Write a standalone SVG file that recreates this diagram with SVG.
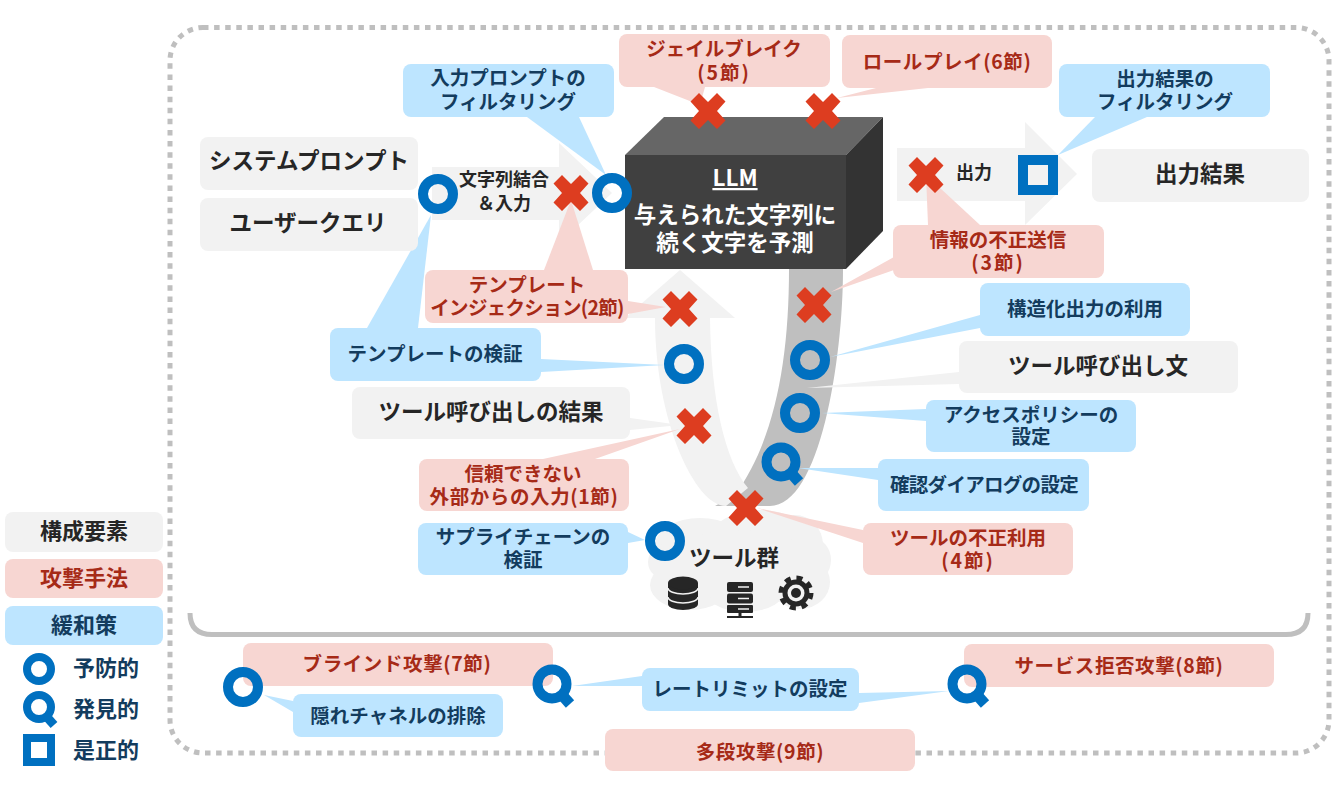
<svg xmlns="http://www.w3.org/2000/svg" width="1341" height="790" viewBox="0 0 1341 790">
<style>
text{font-family:"Noto Sans CJK JP","Noto Sans",sans-serif;font-weight:700;text-anchor:middle;dominant-baseline:central}
.g{fill:#f2f2f2}.p{fill:#f7d6d2}.b{fill:#bde5ff}
.gt{fill:#262626;font-size:22.5px}.gs{fill:#262626;font-size:18px}
.pt{fill:#a62a17;font-size:19.5px}.bt{fill:#133c5e;font-size:19.5px}
.n{letter-spacing:2px}.w1{letter-spacing:.6px}.t1{letter-spacing:-.7px}
.x{fill:#dd3d20}.ring{fill:none;stroke:#0070c0;stroke-width:10}.hd{fill:none;stroke:#0070c0;stroke-width:11}
.w{fill:#fff;font-size:22.5px}
.l{font-size:22px}
</style>
<defs>
<polygon id="x" class="x" points="-17.5,-9.5 -9,-18 0,-9 9,-18 17.5,-9.5 9,0 17.5,9.5 9,18 0,9 -9,18 -17.5,9.5 -9,0"/>
<circle id="o" class="ring" r="15"/>
<g id="q"><circle class="ring" r="14.5"/><path class="hd" d="M10 11L18 20"/></g>
</defs>

<rect id="frame" x="170" y="27.5" width="1159" height="725.5" rx="33" fill="none" stroke="#bfbfbf" stroke-width="5" stroke-dasharray="5.5 5.6"/>
<path id="bracket" d="M190 613Q190 634.500 212 634.500H1286Q1308 634.500 1308 613" fill="none" stroke="#bfbfbf" stroke-width="5"/>

<g id="flows">
<path id="input-arrow" class="g" d="M432 167H559V143L612 193L559 243V220H432Z"/>
<path id="output-arrow" class="g" d="M897 148H1025V122L1077 174L1025 225V201H897Z"/>
<path id="band-out" d="M789 269H843C843 360 820 506 770 506H715L735 495C775 440 789 360 789 269Z" fill="#bfbfbf"/>
<path id="band-in" class="g" d="M680 270L735 318H710C711 400 725 460 748 488L726 506C695 506 655 420 655 318H625Z"/>
</g>

<g id="tools">
<g class="g"><ellipse cx="700" cy="545" rx="45" ry="27"/><ellipse cx="760" cy="540" rx="50" ry="30"/><ellipse cx="795" cy="545" rx="28" ry="30"/><ellipse cx="690" cy="585" rx="40" ry="25"/><ellipse cx="745" cy="587" rx="42" ry="25"/><ellipse cx="800" cy="582" rx="30" ry="27"/><ellipse cx="668" cy="562" rx="20" ry="18"/><ellipse cx="740" cy="565" rx="75" ry="35"/><ellipse cx="812" cy="560" rx="19" ry="22"/></g>
<text class="gt" x="734" y="556">ツール群</text>
<g id="icon-db"><path d="M668 583V604A15 6 0 0 0 698 604V583Z" fill="#262626"/><ellipse cx="683" cy="583" rx="15" ry="6.500" fill="#262626"/><path d="M668 588A15 6 0 0 0 698 588M668 597A15 6 0 0 0 698 597" fill="none" stroke="#f2f2f2" stroke-width="1.500"/></g>
<g id="icon-server" fill="#262626"><rect x="727" y="582" width="26" height="10" rx="2"/><rect x="727" y="593.500" width="26" height="10" rx="2"/><rect x="727" y="605" width="26" height="8" rx="1"/><rect x="738.500" y="612" width="3" height="4"/><rect x="727" y="616" width="26" height="2"/><path d="M738 587h11M738 598.500h11M738 609h11" stroke="#f2f2f2" stroke-width="1.500"/></g>
<g id="icon-gear"><circle cx="796" cy="593" r="13.500" fill="#262626"/><circle cx="796" cy="593" r="15" fill="none" stroke="#262626" stroke-width="5" stroke-dasharray="6 5.780"/><circle cx="796" cy="593" r="8.500" fill="#f2f2f2"/><circle cx="796" cy="593" r="5" fill="#262626"/></g>
</g>

<g id="connectors">
<polygon class="b" points="527,117 579,117 606,175"/>
<polygon class="b" points="367,328 418,328 431,215"/>
<polygon class="b" points="541,359 541,372 665,365"/>
<polygon class="p" points="544,270 593,270 571,200"/>
<polygon class="p" points="628,301 628,314 666,307"/>
<polygon class="p" points="654,87 705,87 700,105"/>
<polygon class="p" points="876,88 928,88 837,98"/>
<polygon class="b" points="1095,117 1147,117 1058,155"/>
<polygon class="p" points="928,225 980,225 926,175"/>
<polygon class="p" points="894,257 894,270 831,292"/>
<polygon class="b" points="980,315 980,328 830,357"/>
<polygon class="g" points="959,372 959,384 807,388"/>
<polygon class="b" points="926,409 926,421 822,413"/>
<polygon class="b" points="878,468 878,480 798,468"/>
<polygon class="p" points="863,530 863,543 757,508"/>
<polygon class="g" points="630,418 630,430 680,425"/>
<polygon class="p" points="543,459 595,459 680,429"/>
<polygon class="b" points="628,532 628,543 645,540"/>
<polygon class="b" points="293,701 293,712 264,695"/>
<polygon class="b" points="642,676 642,686 572,686"/>
<polygon class="b" points="859,693 859,703 949,691"/>
</g>

<g id="llm"><polygon points="625,155 664,117 883,117 846,155" fill="#666"/><polygon points="846,155 883,117 883,231 846,269" fill="#333"/><rect x="625" y="155" width="221" height="114" fill="#404040"/>
<text class="w" x="735" y="176" text-decoration="underline">LLM</text><text class="w" x="735" y="213">与えられた文字列に</text><text class="w" x="735" y="241">続く文字を予測</text></g>

<g id="system-prompt"><rect class="g" x="200" y="137" width="218" height="53" rx="8"/><text class="gt" x="309" y="159">システムプロンプト</text></g>
<g id="user-query"><rect class="g" x="200" y="198" width="218" height="53" rx="8"/><text class="gt" x="308" y="221">ユーザークエリ</text></g>
<g id="concat"><text class="gs" x="504" y="178">文字列結合</text><text class="gs" x="504" y="202">＆入力</text></g>
<g id="output-label"><text class="gs" x="974" y="171">出力</text></g>
<g id="output-result"><rect class="g" x="1092" y="149" width="217" height="53" rx="8"/><text class="gt" x="1200" y="172">出力結果</text></g>
<g id="input-filter"><rect class="b" x="403" y="64" width="211" height="53" rx="8"/><text class="bt" x="508" y="76">入力プロンプトの</text><text class="bt" x="508" y="100">フィルタリング</text></g>
<g id="jailbreak"><rect class="p" x="619" y="34" width="211" height="53" rx="8"/><text class="pt" x="724" y="47">ジェイルブレイク</text><text class="pt n" x="724" y="71">(5節)</text></g>
<g id="roleplay"><rect class="p" x="842" y="35" width="210" height="53" rx="8"/><text class="pt w1" x="947" y="60">ロールプレイ(6節)</text></g>
<g id="output-filter"><rect class="b" x="1059" y="64" width="211" height="53" rx="8"/><text class="bt" x="1165" y="77">出力結果の</text><text class="bt" x="1165" y="100">フィルタリング</text></g>
<g id="info-leak"><rect class="p" x="893" y="225" width="211" height="53" rx="8"/><text class="pt" x="998" y="238">情報の不正送信</text><text class="pt n" x="998" y="261">(3節)</text></g>
<g id="template-injection"><rect class="p" x="425" y="270" width="203" height="53" rx="8"/><text class="pt" x="527" y="283">テンプレート</text><text class="pt t1" x="527" y="306">インジェクション(2節)</text></g>
<g id="template-check"><rect class="b" x="330" y="328" width="211" height="53" rx="8"/><text class="bt" x="435" y="352">テンプレートの検証</text></g>
<g id="tool-result"><rect class="g" x="352" y="387" width="278" height="52" rx="8"/><text class="gt" x="491" y="410">ツール呼び出しの結果</text></g>
<g id="untrusted"><rect class="p" x="419" y="459" width="210" height="52" rx="8"/><text class="pt" x="523" y="472">信頼できない</text><text class="pt w1" x="524" y="495">外部からの入力(1節)</text></g>
<g id="supply-chain"><rect class="b" x="418" y="523" width="210" height="52" rx="8"/><text class="bt" x="523" y="535">サプライチェーンの</text><text class="bt" x="523" y="558">検証</text></g>
<g id="structured"><rect class="b" x="980" y="283" width="210" height="53" rx="8"/><text class="bt" x="1085" y="307">構造化出力の利用</text></g>
<g id="tool-call"><rect class="g" x="959" y="341" width="279" height="52" rx="8"/><text class="gt" x="1098" y="364">ツール呼び出し文</text></g>
<g id="access-policy"><rect class="b" x="926" y="400" width="210" height="52" rx="8"/><text class="bt" x="1031" y="413">アクセスポリシーの</text><text class="bt" x="1031" y="435">設定</text></g>
<g id="confirm"><rect class="b" x="878" y="459" width="211" height="52" rx="8"/><text class="bt t1" x="984" y="483">確認ダイアログの設定</text></g>
<g id="tool-abuse"><rect class="p" x="863" y="523" width="210" height="52" rx="8"/><text class="pt" x="968" y="536">ツールの不正利用</text><text class="pt n" x="968" y="559">(4節)</text></g>
<g id="blind"><rect class="p" x="243" y="643" width="310" height="43" rx="8"/><text class="pt w1" x="397" y="662">ブラインド攻撃(7節)</text></g>
<g id="hidden-channel"><rect class="b" x="293" y="694" width="210" height="43" rx="8"/><text class="bt" x="398" y="714">隠れチャネルの排除</text></g>
<g id="rate-limit"><rect class="b" x="642" y="668" width="217" height="43" rx="8"/><text class="bt" x="750" y="687">レートリミットの設定</text></g>
<g id="dos"><rect class="p" x="964" y="644" width="310" height="43" rx="8"/><text class="pt w1" x="1119" y="664">サービス拒否攻撃(8節)</text></g>
<g id="multistep"><rect class="p" x="605" y="729" width="310" height="42" rx="8"/><text class="pt w1" x="760" y="750">多段攻撃(9節)</text></g>

<g id="marks">
<use href="#x" x="708" y="111"/><use href="#x" x="823" y="111"/><use href="#x" x="571" y="193"/><use href="#x" x="926" y="175"/><use href="#x" x="814" y="305"/><use href="#x" x="680" y="309"/><use href="#x" x="694" y="426"/><use href="#x" x="746" y="508"/>
<use href="#o" x="438" y="194"/><use href="#o" x="612" y="193"/><use href="#o" x="684" y="364"/><use href="#o" x="810" y="360"/><use href="#o" x="800" y="413"/><use href="#o" x="665" y="541"/><use href="#o" x="243" y="687"/>
<use href="#q" x="781" y="462"/><use href="#q" x="552" y="684"/><use href="#q" x="967" y="684"/>
<rect x="1023" y="160" width="30" height="30" fill="none" stroke="#0070c0" stroke-width="10"/>
</g>

<g id="legend">
<g id="legend-component"><rect class="g" x="5" y="512" width="158" height="40" rx="8"/><text class="gt l" x="84" y="529">構成要素</text></g>
<g id="legend-attack"><rect class="p" x="5" y="559" width="158" height="39" rx="8"/><text class="pt l" style="font-size:22px" x="84" y="576">攻撃手法</text></g>
<g id="legend-mitigation"><rect class="b" x="5" y="606" width="158" height="39" rx="8"/><text class="bt l" style="font-size:22px" x="84" y="623">緩和策</text></g>
<g id="legend-prevent"><circle class="ring" cx="39" cy="669" r="12" style="stroke-width:8"/><text class="bt" style="font-size:22px" x="106" y="666">予防的</text></g>
<g id="legend-detect"><circle class="ring" cx="39" cy="707" r="12" style="stroke-width:8"/><path class="hd" style="stroke-width:9" d="M46 716L54 725"/><text class="bt" style="font-size:22px" x="106" y="707">発見的</text></g>
<g id="legend-correct"><rect class="ring" x="27" y="738" width="24" height="24" style="stroke-width:8"/><text class="bt" style="font-size:22px" x="106" y="748">是正的</text></g>
</g>
</svg>
